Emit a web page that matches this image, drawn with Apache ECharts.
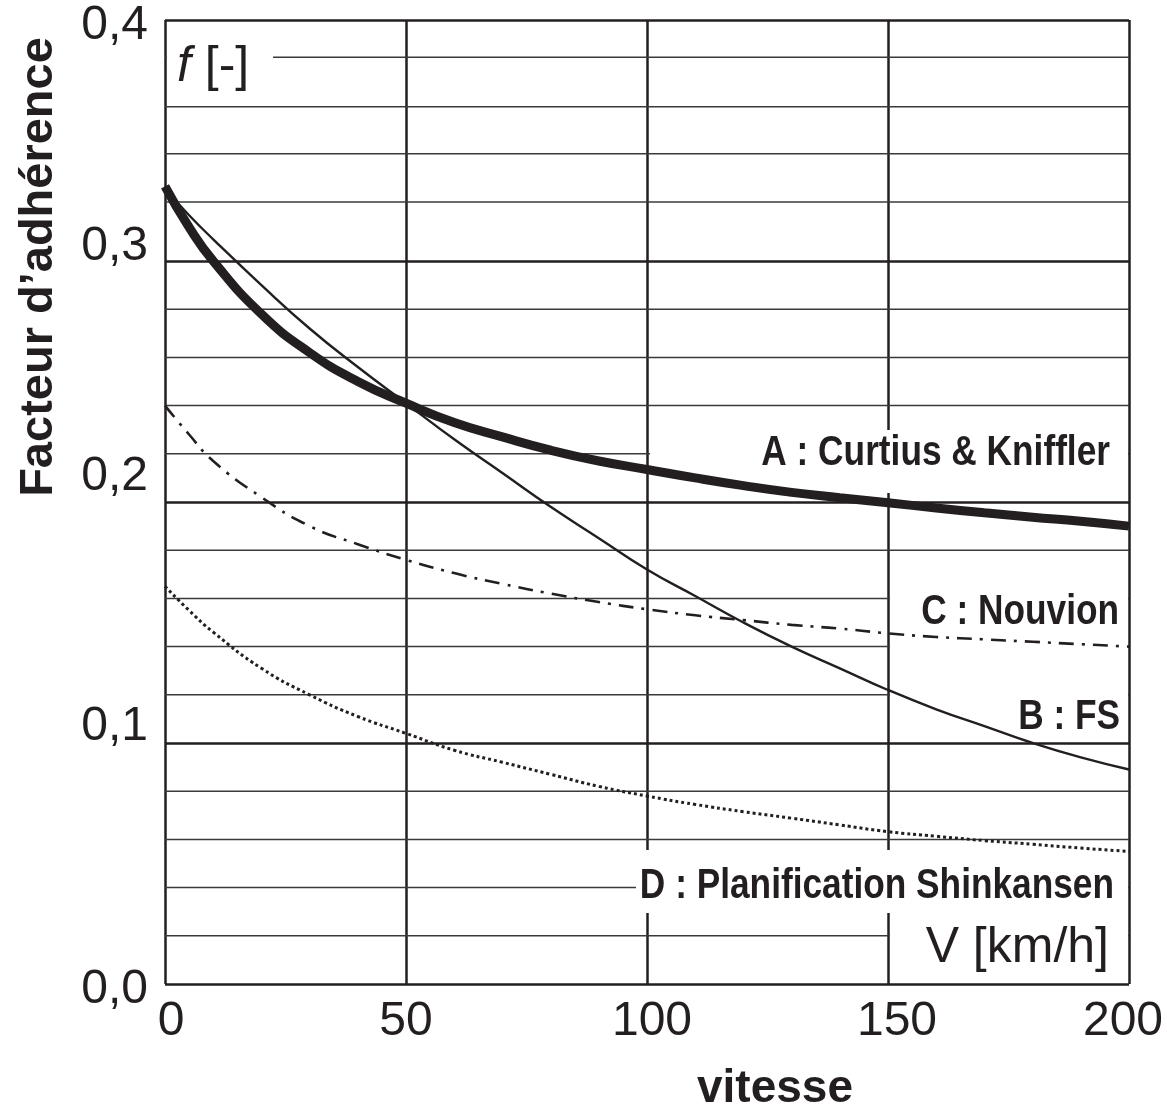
<!DOCTYPE html>
<html>
<head>
<meta charset="utf-8">
<script src="https://cdn.jsdelivr.net/npm/echarts@6/dist/echarts.min.js"></script>
<style>html,body{margin:0;padding:0;background:#fff;}#c{width:1167px;height:1107px;}</style>
</head>
<body>
<div id="c"></div>
<script>
// ---- data ----
var speeds = [0,5,10,20,30,40,50,60,70,80,90,100,110,120,130,140,150,160,170,180,190,200];
var curtiusKniffler = [0.331,0.314,0.300,0.278,0.262,0.250,0.241,0.233,0.227,0.2215,0.217,0.2135,0.2100,0.2068,0.204,0.2018,0.1997,0.1975,0.1955,0.1937,0.192,0.190];
var fsValues = [0.330,0.319,0.309,0.290,0.272,0.256,0.241,0.226,0.212,0.198,0.185,0.172,0.161,0.150,0.140,0.131,0.122,0.114,0.107,0.100,0.094,0.089];
var nouvion = [0.240,0.228,0.217,0.202,0.190,0.1825,0.176,0.1705,0.166,0.162,0.1585,0.1555,0.153,0.151,0.149,0.1475,0.1455,0.144,0.143,0.142,0.141,0.140];
var shinkansen = [0.165,0.155,0.146,0.131,0.120,0.111,0.104,0.097,0.092,0.087,0.082,0.078,0.0745,0.0715,0.0688,0.066,0.0632,0.0613,0.0595,0.058,0.0564,0.055];
var thinGridValues = [0.02,0.04,0.06,0.08,0.12,0.14,0.16,0.18,0.22,0.24,0.26,0.28,0.3245,0.3445,0.364,0.3845];
var xRange = [0,200];
var xTickLabels = ['0','50','100','150','200'];
var yTickLabels = ['0,0','0,1','0,2','0,3','0,4'];
var seriesNames = ['A : Curtius & Kniffler','B : FS','C : Nouvion','D : Planification Shinkansen'];

function pairs(vals){ return speeds.map(function(s,i){ return [s, vals[i]]; }); }

var INK = '#231f20';
var REG = '"Liberation Sans",Arial,sans-serif';

// per-label small offsets (positions as drawn in the reference)
var yShift = [6,-16,-25,-14,6];      // + = down
var xShift = [6,0,5,9,-6];           // + = right
var yRich = {}, xRich = {};
yShift.forEach(function(d,i){ yRich['y'+i] = {fontSize:48,fontFamily:REG,color:INK,padding: d>=0 ? [2*d,0,0,0] : [0,0,-2*d,0]}; });
xShift.forEach(function(d,i){ xRich['x'+i] = {fontSize:48,fontFamily:REG,color:INK,padding: d>=0 ? [0,0,0,2*d] : [0,-2*d,0,0]}; });

var chart = echarts.init(document.getElementById('c'), null, {renderer:'canvas'});

function box(x,y,w,h){ return {type:'rect', z:3, silent:true, shape:{x:x,y:y,width:w,height:h}, style:{fill:'#fff'}}; }
// bold condensed labels: Liberation Sans Bold narrowed horizontally
function label(text,x,y){
  return {type:'text', z:4, silent:true, x:x, y:y, scaleX:0.82,
    style:{text:text, x:0, y:0, fill:INK, align:'right', verticalAlign:'middle', fontSize:43, fontWeight:'bold', fontFamily:REG}};
}

var gridSeries = thinGridValues.map(function(v){
  return {type:'line', name:'grid'+v, z:1, silent:true, showSymbol:false, animation:false,
    data:[[xRange[0],v],[xRange[1],v]], lineStyle:{color:'#3a3a3a', width:1.5}};
});

var curveSeries = [
  {type:'line', name:seriesNames[0], z:5, data:pairs(curtiusKniffler), smooth:0.5, showSymbol:false, lineStyle:{color:INK, width:9}},
  {type:'line', name:seriesNames[1], z:5, data:pairs(fsValues), smooth:0.5, showSymbol:false, lineStyle:{color:INK, width:2.4}},
  {type:'line', name:seriesNames[2], z:5, data:pairs(nouvion), smooth:0.5, showSymbol:false, lineStyle:{color:INK, width:2.6, type:[15,8,3,8]}},
  {type:'line', name:seriesNames[3], z:5, data:pairs(shinkansen), smooth:0.5, showSymbol:false, lineStyle:{color:INK, width:3, type:[3,3]}}
];

var option = {
  animation:false,
  backgroundColor:'#fff',
  grid:{left:165, top:20, width:964, height:964, outerBoundsMode:'none', containLabel:false, show:false},
  xAxis:{
    type:'value', min:0, max:200, interval:50,
    name:'vitesse', nameLocation:'middle', nameGap:82,
    nameTextStyle:{fontSize:46, fontWeight:'bold', fontFamily:REG, color:INK, padding:[0,0,0,256]},
    axisLine:{show:false}, axisTick:{show:false},
    axisLabel:{margin:14, formatter:function(v){ var i=Math.round(v/50); return '{x'+i+'|'+xTickLabels[i]+'}'; }, rich:xRich},
    splitLine:{show:true, lineStyle:{color:INK, width:2.5}}
  },
  yAxis:{
    type:'value', min:0, max:0.4, interval:0.1,
    name:'Facteur d’adhérence', nameLocation:'middle', nameGap:102, nameRotate:90,
    nameTextStyle:{fontSize:47, fontWeight:'bold', fontFamily:REG, color:INK, padding:[0,0,0,470]},
    axisLine:{show:false}, axisTick:{show:false},
    axisLabel:{margin:17, formatter:function(v){ var i=Math.round(v*10); return '{y'+i+'|'+yTickLabels[i]+'}'; }, rich:yRich},
    splitLine:{show:true, lineStyle:{color:INK, width:2.5}}
  },
  graphic:[
    box(167,26,106,76),
    box(650,430,478,63),
    box(890,575,238,164),
    box(636,850,492,63),
    box(890,915,238,66),
    {type:'text', z:4, silent:true, x:177, y:67, style:{text:'{i|f} [-]', fill:INK, fontSize:50, fontFamily:REG, align:'left', verticalAlign:'middle', rich:{i:{fontStyle:'italic', fontSize:50, fontFamily:REG, fill:INK}}}},
    label(seriesNames[0],1110,453),
    label(seriesNames[2],1119,612),
    label(seriesNames[1],1120,717),
    label(seriesNames[3],1114,886),
    {type:'text', z:4, silent:true, x:1109, y:948, style:{text:'V [km/h]', fill:INK, align:'right', verticalAlign:'middle', fontSize:50, fontFamily:REG}}
  ],
  series: gridSeries.concat(curveSeries)
};
chart.setOption(option);
</script>
</body>
</html>
